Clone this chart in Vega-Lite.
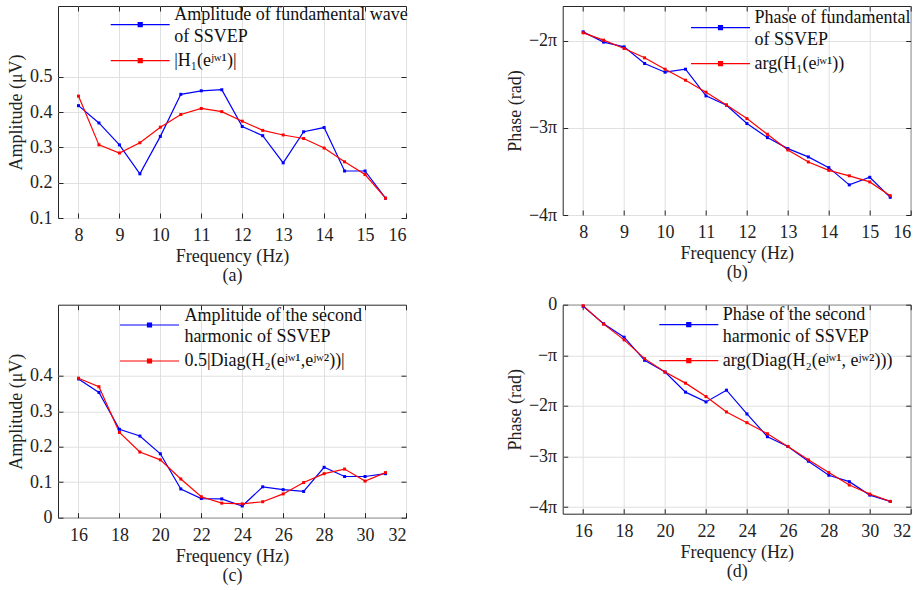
{
  "$schema": "https://vega.github.io/schema/vega-lite/v6.json",
  "padding": {"left": 7, "top": 5, "right": 0, "bottom": 0},
  "background": "white",
  "columns": 2,
  "spacing": {"row": 86.7, "column": 156.7},
  "bounds": "flush",
  "resolve": {"scale": {"color": "independent", "x": "independent", "y": "independent"}, "legend": {"color": "independent"}},
  "datasets": {
    "a": [
      {"f": 8, "s1": 0.418, "s2": 0.445},
      {"f": 8.5, "s1": 0.369, "s2": 0.307},
      {"f": 9, "s1": 0.307, "s2": 0.284},
      {"f": 9.5, "s1": 0.225, "s2": 0.313},
      {"f": 10, "s1": 0.331, "s2": 0.357},
      {"f": 10.5, "s1": 0.45, "s2": 0.393},
      {"f": 11, "s1": 0.46, "s2": 0.41},
      {"f": 11.5, "s1": 0.463, "s2": 0.401},
      {"f": 12, "s1": 0.359, "s2": 0.374},
      {"f": 12.5, "s1": 0.333, "s2": 0.348},
      {"f": 13, "s1": 0.256, "s2": 0.335},
      {"f": 13.5, "s1": 0.344, "s2": 0.325},
      {"f": 14, "s1": 0.356, "s2": 0.298},
      {"f": 14.5, "s1": 0.233, "s2": 0.259},
      {"f": 15, "s1": 0.233, "s2": 0.223},
      {"f": 15.5, "s1": 0.156, "s2": 0.156}
    ],
    "b": [
      {"f": 8, "s1": -1.897, "s2": -1.908},
      {"f": 8.5, "s1": -2.015, "s2": -1.992},
      {"f": 9, "s1": -2.069, "s2": -2.088},
      {"f": 9.5, "s1": -2.26, "s2": -2.195},
      {"f": 10, "s1": -2.36, "s2": -2.326},
      {"f": 10.5, "s1": -2.326, "s2": -2.452},
      {"f": 11, "s1": -2.632, "s2": -2.59},
      {"f": 11.5, "s1": -2.739, "s2": -2.736},
      {"f": 12, "s1": -2.95, "s2": -2.893},
      {"f": 12.5, "s1": -3.111, "s2": -3.073},
      {"f": 13, "s1": -3.238, "s2": -3.253},
      {"f": 13.5, "s1": -3.333, "s2": -3.391},
      {"f": 14, "s1": -3.456, "s2": -3.487},
      {"f": 14.5, "s1": -3.654, "s2": -3.55},
      {"f": 15, "s1": -3.567, "s2": -3.62},
      {"f": 15.5, "s1": -3.797, "s2": -3.778}
    ],
    "c": [
      {"f": 16, "s1": 0.391, "s2": 0.393},
      {"f": 17, "s1": 0.353, "s2": 0.369},
      {"f": 18, "s1": 0.249, "s2": 0.24},
      {"f": 19, "s1": 0.23, "s2": 0.185},
      {"f": 20, "s1": 0.18, "s2": 0.163},
      {"f": 21, "s1": 0.081, "s2": 0.109},
      {"f": 22, "s1": 0.054, "s2": 0.059},
      {"f": 23, "s1": 0.053, "s2": 0.041},
      {"f": 24, "s1": 0.033, "s2": 0.039},
      {"f": 25, "s1": 0.087, "s2": 0.045},
      {"f": 26, "s1": 0.079, "s2": 0.067},
      {"f": 27, "s1": 0.074, "s2": 0.099},
      {"f": 28, "s1": 0.142, "s2": 0.124},
      {"f": 29, "s1": 0.116, "s2": 0.137},
      {"f": 30, "s1": 0.116, "s2": 0.103},
      {"f": 31, "s1": 0.124, "s2": 0.127}
    ],
    "d": [
      {"f": 16, "s1": -0.033, "s2": -0.02},
      {"f": 17, "s1": -0.377, "s2": -0.384},
      {"f": 18, "s1": -0.642, "s2": -0.695},
      {"f": 19, "s1": -1.099, "s2": -1.066},
      {"f": 20, "s1": -1.331, "s2": -1.331},
      {"f": 21, "s1": -1.728, "s2": -1.55},
      {"f": 22, "s1": -1.921, "s2": -1.815},
      {"f": 23, "s1": -1.689, "s2": -2.119},
      {"f": 24, "s1": -2.159, "s2": -2.331},
      {"f": 25, "s1": -2.609, "s2": -2.55},
      {"f": 26, "s1": -2.801, "s2": -2.801},
      {"f": 27, "s1": -3.093, "s2": -3.066},
      {"f": 28, "s1": -3.371, "s2": -3.318},
      {"f": 29, "s1": -3.497, "s2": -3.563},
      {"f": 30, "s1": -3.762, "s2": -3.742},
      {"f": 31, "s1": -3.887, "s2": -3.887}
    ]
  },
  "concat": [
    {
      "width": 348, "height": 212,
      "data": {"name": "a"},
      "transform": [{"fold": ["s1", "s2"], "as": ["s", "v"]}],
      "resolve": {"axis": {"x": "independent", "y": "independent"}},
      "layer": [
        {
          "mark": {"type": "line", "strokeWidth": 1.2, "point": {"filled": true, "shape": "square", "size": 9}},
          "encoding": {
            "x": {"field": "f", "type": "quantitative", "scale": {"domain": [7.5, 16], "nice": false, "zero": false},
                  "axis": {"values": [8, 9, 10, 11, 12, 13, 14, 15, 16], "title": ["Frequency (Hz)", "(a)"]}},
            "y": {"field": "v", "type": "quantitative", "scale": {"domain": [0.1, 0.7], "nice": false, "zero": false},
                  "axis": {"values": [0.1, 0.2, 0.3, 0.4, 0.5], "format": ".1f", "title": "Amplitude (μV)"}},
            "color": {"field": "s", "type": "nominal", "scale": {"domain": ["s1", "s2"], "range": ["#0000ff", "#ff0000"]},
                      "legend": {"title": null, "orient": "none", "legendX": 71.2, "legendY": 7.7,
                                 "labelExpr": "datum.value == 's1' ? ['Amplitude of fundamental wave', 'of SSVEP'] : '|H₁(eʲʷ¹)|'",
                                 "encode": {"labels": {"update": {"lineHeight": {"value": 21.5}, "dy": {"signal": "datum.value == 's1' ? -9.5 : 0"}}}}}}
          }
        },
        {
          "mark": {"type": "point", "opacity": 0},
          "encoding": {
            "x": {"field": "f", "type": "quantitative", "scale": {"domain": [7.5, 16], "nice": false, "zero": false},
                  "axis": {"orient": "top", "values": [8, 9, 10, 11, 12, 13, 14, 15, 16], "labels": false, "grid": false, "title": null}},
            "y": {"field": "v", "type": "quantitative", "scale": {"domain": [0.1, 0.7], "nice": false, "zero": false},
                  "axis": {"orient": "right", "values": [0.1, 0.2, 0.3, 0.4, 0.5], "labels": false, "grid": false, "title": null}}
          }
        }
      ]
    },
    {
      "width": 348, "height": 209,
      "data": {"name": "b"},
      "transform": [{"fold": ["s1", "s2"], "as": ["s", "v"]}],
      "resolve": {"axis": {"x": "independent", "y": "independent"}},
      "layer": [
        {
          "mark": {"type": "line", "strokeWidth": 1.2, "point": {"filled": true, "shape": "square", "size": 9}},
          "encoding": {
            "x": {"field": "f", "type": "quantitative", "scale": {"domain": [7.5, 16], "nice": false, "zero": false},
                  "axis": {"values": [8, 9, 10, 11, 12, 13, 14, 15, 16], "title": ["Frequency (Hz)", "(b)"]}},
            "y": {"field": "v", "type": "quantitative", "scale": {"domain": [-4, -1.6], "nice": false, "zero": false},
                  "axis": {"values": [-4, -3, -2], "labelExpr": "datum.value == 0 ? '0' : datum.value == -1 ? '−π' : '−' + abs(datum.value) + 'π'", "title": "Phase (rad)"}},
            "color": {"field": "s", "type": "nominal", "scale": {"domain": ["s1", "s2"], "range": ["#0000ff", "#ff0000"]},
                      "legend": {"title": null, "orient": "none", "legendX": 146.8, "legendY": 10.7,
                                 "labelExpr": "datum.value == 's1' ? ['Phase of fundamental', 'of SSVEP'] : 'arg(H₁(eʲʷ¹))'",
                                 "encode": {"labels": {"update": {"lineHeight": {"value": 21.5}, "dy": {"signal": "datum.value == 's1' ? -9.5 : 0"}}}}}}
          }
        },
        {
          "mark": {"type": "point", "opacity": 0},
          "encoding": {
            "x": {"field": "f", "type": "quantitative", "scale": {"domain": [7.5, 16], "nice": false, "zero": false},
                  "axis": {"orient": "top", "values": [8, 9, 10, 11, 12, 13, 14, 15, 16], "labels": false, "grid": false, "title": null}},
            "y": {"field": "v", "type": "quantitative", "scale": {"domain": [-4, -1.6], "nice": false, "zero": false},
                  "axis": {"orient": "right", "values": [-4, -3, -2], "labels": false, "grid": false, "title": null}}
          }
        }
      ]
    },
    {
      "width": 348, "height": 213,
      "data": {"name": "c"},
      "transform": [{"fold": ["s1", "s2"], "as": ["s", "v"]}],
      "resolve": {"axis": {"x": "independent", "y": "independent"}},
      "layer": [
        {
          "mark": {"type": "line", "strokeWidth": 1.2, "point": {"filled": true, "shape": "square", "size": 9}},
          "encoding": {
            "x": {"field": "f", "type": "quantitative", "scale": {"domain": [15, 32], "nice": false, "zero": false},
                  "axis": {"values": [16, 18, 20, 22, 24, 26, 28, 30, 32], "title": ["Frequency (Hz)", "(c)"]}},
            "y": {"field": "v", "type": "quantitative", "scale": {"domain": [0, 0.6], "nice": false, "zero": false},
                  "axis": {"values": [0, 0.1, 0.2, 0.3, 0.4], "labelExpr": "datum.value == 0 ? '0' : format(datum.value, '.1f')", "title": "Amplitude (μV)"}},
            "color": {"field": "s", "type": "nominal", "scale": {"domain": ["s1", "s2"], "range": ["#0000ff", "#ff0000"]},
                      "legend": {"title": null, "orient": "none", "legendX": 80.5, "legendY": 9.3,
                                 "labelOffset": 24,
                                 "labelExpr": "datum.value == 's1' ? ['Amplitude of the second', 'harmonic of SSVEP'] : '0.5|Diag(H₂(eʲʷ¹,eʲʷ²))|'",
                                 "encode": {"labels": {"update": {"lineHeight": {"value": 21.5}, "dy": {"signal": "datum.value == 's1' ? -9.5 : 0"}}}}}}
          }
        },
        {
          "mark": {"type": "point", "opacity": 0},
          "encoding": {
            "x": {"field": "f", "type": "quantitative", "scale": {"domain": [15, 32], "nice": false, "zero": false},
                  "axis": {"orient": "top", "values": [16, 18, 20, 22, 24, 26, 28, 30, 32], "labels": false, "grid": false, "title": null}},
            "y": {"field": "v", "type": "quantitative", "scale": {"domain": [0, 0.6], "nice": false, "zero": false},
                  "axis": {"orient": "right", "values": [0, 0.1, 0.2, 0.3, 0.4], "labels": false, "grid": false, "title": null}}
          }
        }
      ]
    },
    {
      "width": 348, "height": 209,
      "data": {"name": "d"},
      "transform": [{"fold": ["s1", "s2"], "as": ["s", "v"]}],
      "resolve": {"axis": {"x": "independent", "y": "independent"}},
      "layer": [
        {
          "mark": {"type": "line", "strokeWidth": 1.2, "point": {"filled": true, "shape": "square", "size": 9}},
          "encoding": {
            "x": {"field": "f", "type": "quantitative", "scale": {"domain": [15, 32], "nice": false, "zero": false},
                  "axis": {"values": [16, 18, 20, 22, 24, 26, 28, 30, 32], "title": ["Frequency (Hz)", "(d)"]}},
            "y": {"field": "v", "type": "quantitative", "scale": {"domain": [-4.13, 0], "nice": false, "zero": false},
                  "axis": {"values": [-4, -3, -2, -1, 0], "labelExpr": "datum.value == 0 ? '0' : datum.value == -1 ? '−π' : '−' + abs(datum.value) + 'π'", "title": "Phase (rad)"}},
            "color": {"field": "s", "type": "nominal", "scale": {"domain": ["s1", "s2"], "range": ["#0000ff", "#ff0000"]},
                      "legend": {"title": null, "orient": "none", "legendX": 115.1, "legendY": 9,
                                 "labelOffset": 23,
                                 "labelExpr": "datum.value == 's1' ? ['Phase of the second', 'harmonic of SSVEP'] : 'arg(Diag(H₂(eʲʷ¹, eʲʷ²)))'",
                                 "encode": {"labels": {"update": {"lineHeight": {"value": 21.5}, "dy": {"signal": "datum.value == 's1' ? -9.5 : 0"}}}}}}
          }
        },
        {
          "mark": {"type": "point", "opacity": 0},
          "encoding": {
            "x": {"field": "f", "type": "quantitative", "scale": {"domain": [15, 32], "nice": false, "zero": false},
                  "axis": {"orient": "top", "values": [16, 18, 20, 22, 24, 26, 28, 30, 32], "labels": false, "grid": false, "title": null}},
            "y": {"field": "v", "type": "quantitative", "scale": {"domain": [-4.13, 0], "nice": false, "zero": false},
                  "axis": {"orient": "right", "values": [-4, -3, -2, -1, 0], "labels": false, "grid": false, "title": null}}
          }
        }
      ]
    }
  ],
  "config": {
    "font": "Liberation Serif",
    "view": {"stroke": "#262626", "strokeWidth": 1},
    "axis": {
      "labelFont": "Liberation Serif", "labelFontSize": 18, "labelColor": "#222222",
      "titleFont": "Liberation Serif", "titleFontSize": 18, "titleFontWeight": "normal", "titleColor": "#222222",
      "titleLineHeight": 19,
      "gridColor": "#e0e0e0", "gridWidth": 1, "domain": false,
      "tickColor": "#262626", "tickSize": -5, "tickWidth": 1
    },
    "axisX": {"labelPadding": 13.7, "titlePadding": 3},
    "axisY": {"labelPadding": 11, "titlePadding": 4},
    "legend": {
      "labelFont": "Liberation Serif", "labelFontSize": 18, "labelColor": "#111111", "labelLimit": 600,
      "symbolType": "M-2.95,0H2.95M-0.2,-0.2H0.2V0.2H-0.2Z", "symbolSize": 400, "symbolStrokeWidth": 1.2,
      "labelOffset": 23, "rowPadding": 4, "padding": 0
    }
  }
}
